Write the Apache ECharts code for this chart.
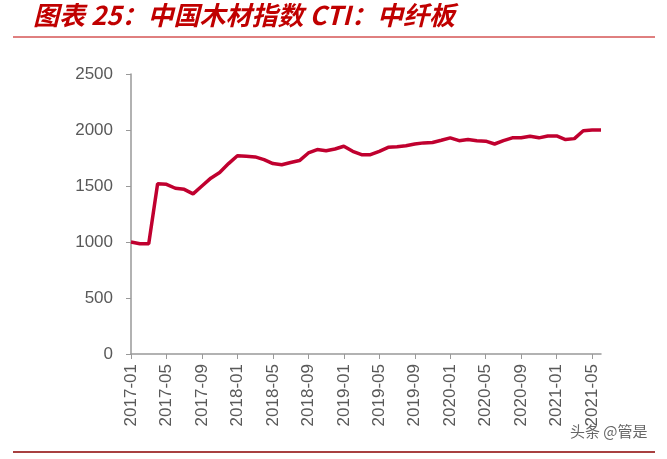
<!DOCTYPE html>
<html>
<head>
<meta charset="utf-8">
<script src="https://cdn.jsdelivr.net/npm/echarts@6/dist/echarts.min.js"></script>
<style>
body{margin:0;background:#fff;}
#main{width:667px;height:459px;}
</style>
</head>
<body>
<div id="main"></div>
<script>
// months 2017-01 .. 2021-06
var months = [];
for (var y = 2017; y <= 2021; y++) {
	for (var m = 1; m <= 12; m++) {
		if (y === 2021 && m > 6) break;
		months.push(y + '-' + (m < 10 ? '0' + m : m));
	}
}
var ctiValues = [1000, 985, 985, 1520, 1515, 1480, 1470, 1430, 1500, 1570, 1620, 1700,
	1770, 1765, 1760, 1735, 1700, 1690, 1710, 1727, 1795, 1825, 1815, 1830,
	1855, 1810, 1780, 1780, 1810, 1845, 1850, 1860, 1875, 1885, 1888, 1908,
	1930, 1905, 1915, 1905, 1900, 1875, 1905, 1930, 1930, 1945, 1930, 1947,
	1947, 1915, 1923, 1993, 2000, 2000];
var yTicks = [0, 500, 1000, 1500, 2000, 2500];

var chart = echarts.init(document.getElementById('main'));
chart.setOption({
	backgroundColor: '#fff',
	animation: false,
	graphic: [
		{type: 'text', left: 33, top: 2, style: {text: '图表 25：中国木材指数 CTI：中纤板', fill: '#c00000',
			font: 'italic bold 26px "Noto Sans CJK SC", sans-serif'}},
		{type: 'line', shape: {x1: 13, y1: 37, x2: 655, y2: 37}, style: {stroke: '#c00000', lineWidth: 1}},
		{type: 'line', shape: {x1: 13, y1: 452, x2: 655, y2: 452}, style: {stroke: '#8b0000', lineWidth: 1.5}},
		{type: 'text', left: 570, top: 424, style: {text: '头条 @管是', fill: '#666',
			font: '15px "Noto Sans CJK SC", sans-serif'}}
	],
	grid: {left: 131, right: 66, top: 74, bottom: 105},
	xAxis: {
		type: 'category',
		data: months,
		boundaryGap: false,
		axisLine: {lineStyle: {color: '#999', width: 1.5}},
		axisTick: {interval: 3, length: 5, lineStyle: {color: '#999'}},
		axisLabel: {interval: 3, rotate: 90, color: '#595959', fontSize: 17, fontFamily: 'Arial', margin: 10}
	},
	yAxis: {
		type: 'value',
		min: yTicks[0], max: yTicks[yTicks.length - 1], interval: 500,
		axisLine: {show: true, lineStyle: {color: '#999', width: 1.5}},
		axisTick: {show: true, inside: false, length: 5, lineStyle: {color: '#999'}},
		splitLine: {show: false},
		axisLabel: {color: '#595959', fontSize: 17, fontFamily: 'Arial', margin: 18,
			formatter: function (v) { return String(v); }}
	},
	series: [{
		type: 'line',
		data: ctiValues,
		symbol: 'none',
		lineStyle: {color: '#c0002f', width: 3.5}
	}]
});
</script>
</body>
</html>
